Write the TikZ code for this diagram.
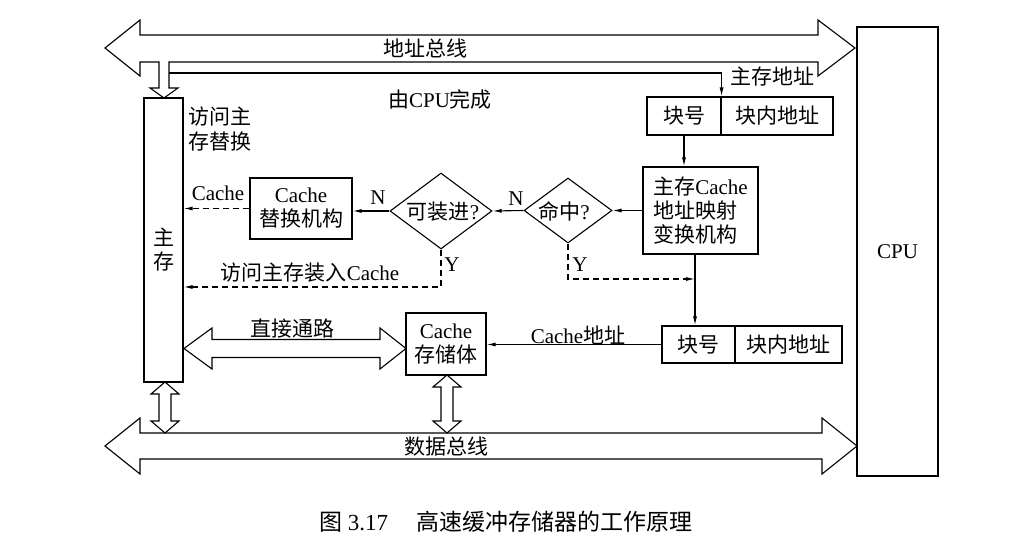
\documentclass[tikz,border=0pt]{standalone}
\usepackage{fontspec}
\setmainfont{Liberation Serif}
\newfontfamily\cjk{Noto Sans CJK SC}
\newcommand\zh[1]{{\cjk #1}}
\usetikzlibrary{arrows.meta,shapes.geometric}
\begin{document}
\begin{tikzpicture}[x=1pt,y=-1pt,
  every node/.style={font=\fontsize{21}{24}\selectfont},
  ln/.style={line width=1.1pt},
  arr/.style={ln,-{Latex[length=9pt,width=4pt]}},
  dsh/.style={arr,dash pattern=on 6pt off 4pt},
  box/.style={draw,ln,inner sep=0pt,align=center},
  dia/.style={draw,ln,diamond,inner sep=0pt},
  hollow/.style={draw,ln,fill=white,line join=miter},
  lbl/.style={inner sep=0pt,align=center}]
\useasboundingbox (0,0) rectangle (1020,556);

% buses
\draw[hollow] (105,48) -- (140,20) -- (140,35) -- (818,35) -- (818,20) -- (855,48) -- (818,76) -- (818,62) -- (169,62) -- (169,88) -- (178,88) -- (164,98) -- (150,88) -- (159,88) -- (159,62) -- (140,62) -- (140,76) -- cycle;
\draw[hollow] (105,446) -- (140,418) -- (140,433) -- (822,433) -- (822,418) -- (857,446) -- (822,474) -- (822,459) -- (140,459) -- (140,474) -- cycle;

% boxes
\node[box,minimum width=39,minimum height=284] (mem) at (163.5,240) {};
\node[lbl] at (163.5,250) {\zh{主}\\\zh{存}};
\node[box,minimum width=81,minimum height=449] (cpu) at (897.5,251.5) {CPU};
\node[box,minimum width=74,minimum height=38] (b1a) at (684,116) {\zh{块号}};
\node[box,minimum width=112,minimum height=38] (b1b) at (777,116) {\zh{块内地址}};
\node[box,minimum width=115,minimum height=87,align=left] (map) at (700.5,210.5) {\zh{主存}Cache\\\zh{地址映射}\\\zh{变换机构}};
\node[dia,minimum width=88,minimum height=65] (hit) at (568,210.5) {};
\node[lbl] at (564,211) {\zh{命中}?};
\node[dia,minimum width=102,minimum height=76] (ld) at (441,211) {};
\node[lbl] at (443,212) {\zh{可装进}?};
\node[box,minimum width=102,minimum height=61] (rep) at (301,208.5) {Cache\\\zh{替换机构}};
\node[box,minimum width=73,minimum height=37] (b2a) at (698.5,344.5) {\zh{块号}};
\node[box,minimum width=107,minimum height=37] (b2b) at (788.5,344.5) {\zh{块内地址}};
\node[box,minimum width=80,minimum height=62] (cst) at (446,344) {Cache\\\zh{存储体}};

% other hollow arrows
\draw[hollow] (184,348.5) -- (212,328) -- (212,339.5) -- (380,339.5) -- (380,328) -- (406,348.5) -- (380,369) -- (380,357.5) -- (212,357.5) -- (212,369) -- cycle;
\foreach \x/\ya/\yb in {165/382/433, 447/375/433}{
  \draw[hollow] (\x,\ya) -- (\x+14,\ya+12) -- (\x+6,\ya+12) -- (\x+6,\yb-12) -- (\x+14,\yb-12) -- (\x,\yb) -- (\x-14,\yb-12) -- (\x-6,\yb-12) -- (\x-6,\ya+12) -- (\x-14,\ya+12) -- cycle;
}

% connectors
\coordinate (a0) at (169,73);
\coordinate (y1) at (0,287);
\coordinate (y2) at (0,279);
\coordinate (vx) at (695,0);
\draw[arr] (a0) -| (b1a.north east);
\draw[arr] (b1a.south) -- (b1a.south |- map.north);
\draw[arr] (map.west) -- (hit.east);
\draw[arr] (hit.west) -- (ld.east);
\draw[arr] (ld.west) -- (ld.west -| rep.east);
\draw[dsh] (rep.west) -- (rep.west -| mem.east);
\draw[dsh] (ld.south) |- (mem.east |- y1);
\draw[dsh] (hit.south) |- (vx |- y2);
\draw[arr] (map.south -| vx) -- (b2a.north -| vx);
\draw[arr] (b2a.west) -- (b2a.west -| cst.east);

% labels
\node[lbl] at (425,48) {\zh{地址总线}};
\node[lbl] at (772,77) {\zh{主存地址}};
\node[lbl] at (440,100) {\zh{由}CPU\zh{完成}};
\node[lbl,anchor=west,align=left,font=\fontsize{21}{25}\selectfont] at (188,129.5) {\zh{访问主}\\\zh{存替换}};
\node[lbl] at (218,193) {Cache};
\node[lbl] at (378,198) {N};
\node[lbl] at (516,199) {N};
\node[lbl] at (452,265) {Y};
\node[lbl] at (580,265) {Y};
\node[lbl] at (310,273) {\zh{访问主存装入}Cache};
\node[lbl] at (292,329) {\zh{直接通路}};
\node[lbl] at (578,335) {Cache\zh{地址}};
\node[lbl] at (446,447) {\zh{数据总线}};
\node[lbl,font=\fontsize{23}{26}\selectfont] at (506,522) {\zh{图} 3.17\quad\ \zh{高速缓冲存储器的工作原理}};
\end{tikzpicture}
\end{document}
